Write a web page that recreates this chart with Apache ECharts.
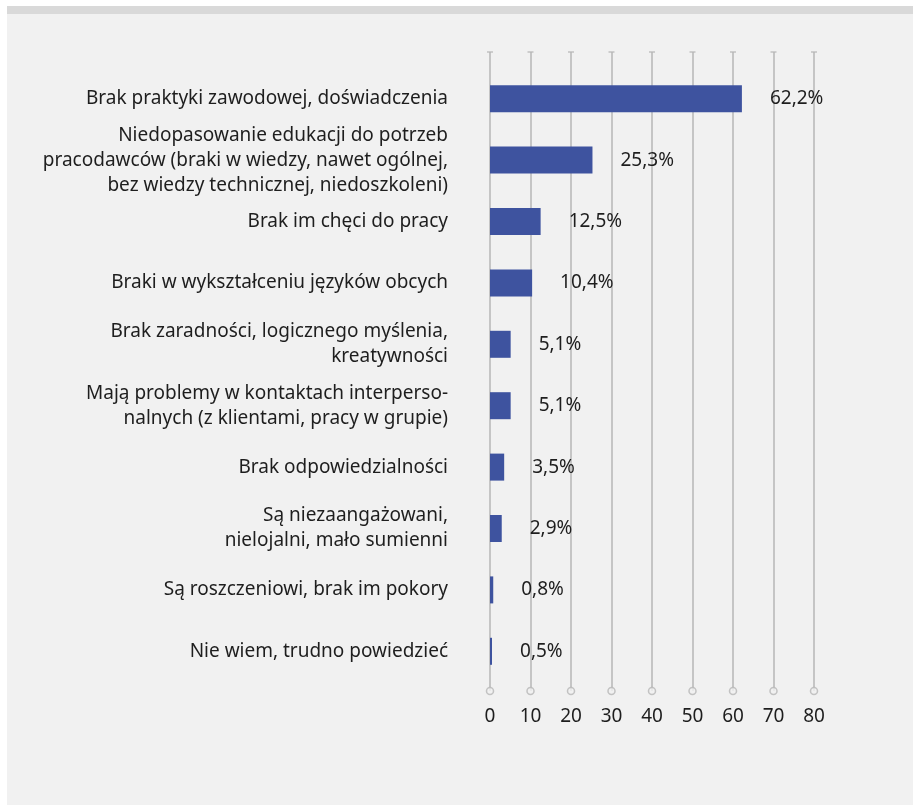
<!DOCTYPE html>
<html><head><meta charset="utf-8">
<script src="https://cdn.jsdelivr.net/npm/echarts@6/dist/echarts.min.js"></script>
<style>html,body{margin:0;padding:0;background:#fff}#c{width:913px;height:805px}</style>
</head><body><div id="c"></div>
<script>
const categories = [
  "Brak praktyki zawodowej, doświadczenia",
  "Niedopasowanie edukacji do potrzeb\npracodawców (braki w wiedzy, nawet ogólnej,\nbez wiedzy technicznej, niedoszkoleni)",
  "Brak im chęci do pracy",
  "Braki w wykształceniu języków obcych",
  "Brak zaradności, logicznego myślenia,\nkreatywności",
  "Mają problemy w kontaktach interperso-\nnalnych (z klientami, pracy w grupie)",
  "Brak odpowiedzialności",
  "Są niezaangażowani,\nnielojalni, mało sumienni",
  "Są roszczeniowi, brak im pokory",
  "Nie wiem, trudno powiedzieć"
];
const values = [62.2, 25.3, 12.5, 10.4, 5.1, 5.1, 3.5, 2.9, 0.8, 0.5];
const xTicks = [0, 10, 20, 30, 40, 50, 60, 70, 80];

const chart = echarts.init(document.getElementById('c'));
const font = '"Noto Sans", sans-serif';
chart.setOption({
  animation: false,
  graphic: [
    {type:'rect', shape:{x:7,y:6,width:906,height:799}, style:{fill:'#f1f1f1'}, z:-10},
    {type:'rect', shape:{x:7,y:6,width:906,height:8}, style:{fill:'#d9d9d9'}, z:-9}
  ],
  grid: [
    {left:490, width:324, top:52, height:639},
    {left:490, width:324, top:68, height:614}
  ],
  xAxis: [
    {gridIndex:0, type:'value', min:0, max:80, interval:10,
     axisLine:{show:false}, axisTick:{show:false},
     splitLine:{show:true, lineStyle:{color:'#b6b6b6', width:1.5}},
     axisLabel:{margin:16, color:'#1e1e1e', fontSize:19, fontFamily:font}},
    {gridIndex:1, type:'value', min:0, max:80, show:false}
  ],
  yAxis: [
    {gridIndex:0, type:'value', min:0, max:1, show:false},
    {gridIndex:1, type:'category', data:categories, inverse:true,
     axisLine:{show:false}, axisTick:{show:false}, splitLine:{show:false},
     axisLabel:{margin:42, color:'#1e1e1e', fontSize:19, lineHeight:25, fontFamily:font, align:'right'}}
  ],
  series: [
    {type:'scatter', xAxisIndex:0, yAxisIndex:0, data:xTicks.map(t=>[t,0]),
     symbol:'circle', symbolSize:7, silent:true,
     itemStyle:{color:'#f1f1f1', borderColor:'#b6b6b6', borderWidth:1.5}},
    {type:'scatter', xAxisIndex:0, yAxisIndex:0, data:xTicks.map(t=>[t,1]),
     symbol:'rect', symbolSize:[6,1.5], silent:true,
     itemStyle:{color:'#b6b6b6'}},
    {type:'bar', xAxisIndex:1, yAxisIndex:1, data:values, barWidth:27,
     itemStyle:{color:'#3e539f'},
     label:{show:true, position:'right', distance:28, color:'#1e1e1e', fontSize:19, fontFamily:font,
       formatter:p=>p.value.toFixed(1).replace('.', ',') + '%'}}
  ]
});
</script></body></html>
